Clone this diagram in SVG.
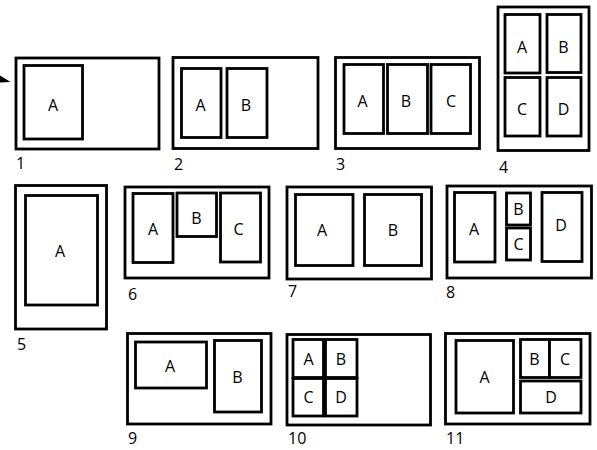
<svg xmlns="http://www.w3.org/2000/svg" width="597" height="450" viewBox="0 0 597 450">
<style>
.o{fill:#fff;stroke:#000;stroke-width:2.8}
.i{fill:#fff;stroke:#000;stroke-width:2.8}
.t{font-family:"Open Sans","Noto Sans","DejaVu Sans",sans-serif;font-size:16px;fill:#000;text-anchor:middle}
.n{font-family:"Open Sans","Noto Sans","DejaVu Sans",sans-serif;font-size:16px;fill:#000}
</style>
<rect width="597" height="450" fill="#fff"/>
<g id="connectors">
<polygon points="0,75.5 10.5,82 0,82.5" fill="#000"/>
</g>
<g id="p1">
<rect class="o" x="16" y="58" width="143" height="91"/>
<rect class="i" x="24" y="65.5" width="58.5" height="73.5"/>
<text class="t" x="53" y="111">A</text>
<text class="n" x="16" y="169">1</text>
</g>
<g id="p2">
<rect class="o" x="173" y="57.5" width="145" height="91"/>
<rect class="i" x="181.5" y="68.5" width="39.5" height="69"/>
<rect class="i" x="227" y="68.5" width="40" height="69"/>
<text class="t" x="200.5" y="111">A</text>
<text class="t" x="246" y="111">B</text>
<text class="n" x="174" y="170">2</text>
</g>
<g id="p3">
<rect class="o" x="335.5" y="57.5" width="144" height="91"/>
<rect class="i" x="344" y="64.5" width="39.5" height="69"/>
<rect class="i" x="387.5" y="64.5" width="40" height="69"/>
<rect class="i" x="431" y="64.5" width="39.5" height="69"/>
<text class="t" x="362.5" y="107">A</text>
<text class="t" x="406" y="107">B</text>
<text class="t" x="451" y="107">C</text>
<text class="n" x="336" y="170">3</text>
</g>
<g id="p4">
<rect class="o" x="498" y="7" width="91" height="143.5"/>
<rect class="i" x="505" y="14.5" width="35" height="58.5"/>
<rect class="i" x="547" y="14.5" width="34" height="58"/>
<rect class="i" x="505" y="77.5" width="35" height="58.5"/>
<rect class="i" x="547" y="77.5" width="34" height="58.5"/>
<text class="t" x="522" y="53">A</text>
<text class="t" x="563.5" y="53">B</text>
<text class="t" x="522" y="115">C</text>
<text class="t" x="563.5" y="115">D</text>
<text class="n" x="499" y="173">4</text>
</g>
<g id="p5">
<rect class="o" x="15.5" y="185.5" width="91" height="143.5"/>
<rect class="i" x="25.5" y="195.5" width="72" height="109.5"/>
<text class="t" x="60" y="257">A</text>
<text class="n" x="17" y="350">5</text>
</g>
<g id="p6">
<rect class="o" x="125" y="187" width="144" height="91"/>
<rect class="i" x="133" y="193.5" width="40" height="69"/>
<rect class="i" x="177" y="193" width="39.5" height="43.5"/>
<rect class="i" x="220.5" y="193" width="40" height="69"/>
<text class="t" x="153" y="235">A</text>
<text class="t" x="196.5" y="224">B</text>
<text class="t" x="238.5" y="235">C</text>
<text class="n" x="128" y="300">6</text>
</g>
<g id="p7">
<rect class="o" x="287" y="187" width="144.5" height="92"/>
<rect class="i" x="295.5" y="194.5" width="57.5" height="71"/>
<rect class="i" x="364.5" y="194.5" width="57" height="71"/>
<text class="t" x="322" y="236">A</text>
<text class="t" x="393" y="236">B</text>
<text class="n" x="288" y="297">7</text>
</g>
<g id="p8">
<rect class="o" x="447" y="186" width="144.5" height="92"/>
<rect class="i" x="454.5" y="192.5" width="40.5" height="69.5"/>
<rect class="i" x="506.5" y="193" width="24" height="32"/>
<rect class="i" x="506.5" y="228" width="24" height="32"/>
<rect class="i" x="542" y="192.5" width="40" height="69"/>
<text class="t" x="474" y="235">A</text>
<text class="t" x="518.5" y="215">B</text>
<text class="t" x="518.5" y="250">C</text>
<text class="t" x="561" y="231">D</text>
<text class="n" x="446" y="298">8</text>
</g>
<g id="p9">
<rect class="o" x="127.5" y="333.5" width="143.5" height="90.5"/>
<rect class="i" x="135.5" y="342" width="71" height="46"/>
<rect class="i" x="214.5" y="340.5" width="47" height="71.5"/>
<text class="t" x="170" y="372">A</text>
<text class="t" x="237.5" y="383">B</text>
<text class="n" x="128" y="444">9</text>
</g>
<g id="p10">
<rect class="o" x="287" y="334.5" width="143.5" height="90.5"/>
<rect class="i" x="293" y="339.5" width="30.5" height="38"/>
<rect class="i" x="325.5" y="339.5" width="31.5" height="38"/>
<rect class="i" x="293" y="378.5" width="30.5" height="37.5"/>
<rect class="i" x="325.5" y="378.5" width="31.5" height="37.5"/>
<text class="t" x="308.5" y="365">A</text>
<text class="t" x="341" y="365">B</text>
<text class="t" x="308.5" y="403">C</text>
<text class="t" x="341" y="403">D</text>
<text class="n" x="288" y="444">10</text>
</g>
<g id="p11">
<rect class="o" x="445.5" y="333.5" width="144.5" height="90.5"/>
<rect class="i" x="456" y="340.5" width="57.5" height="72.5"/>
<rect class="i" x="520.5" y="339.5" width="29" height="38"/>
<rect class="i" x="549.5" y="339.5" width="31.5" height="38"/>
<rect class="i" x="520.5" y="381" width="60.5" height="32"/>
<text class="t" x="484.5" y="383">A</text>
<text class="t" x="534.5" y="365">B</text>
<text class="t" x="565" y="365">C</text>
<text class="t" x="551" y="403">D</text>
<text class="n" x="446" y="444">11</text>
</g>
</svg>
